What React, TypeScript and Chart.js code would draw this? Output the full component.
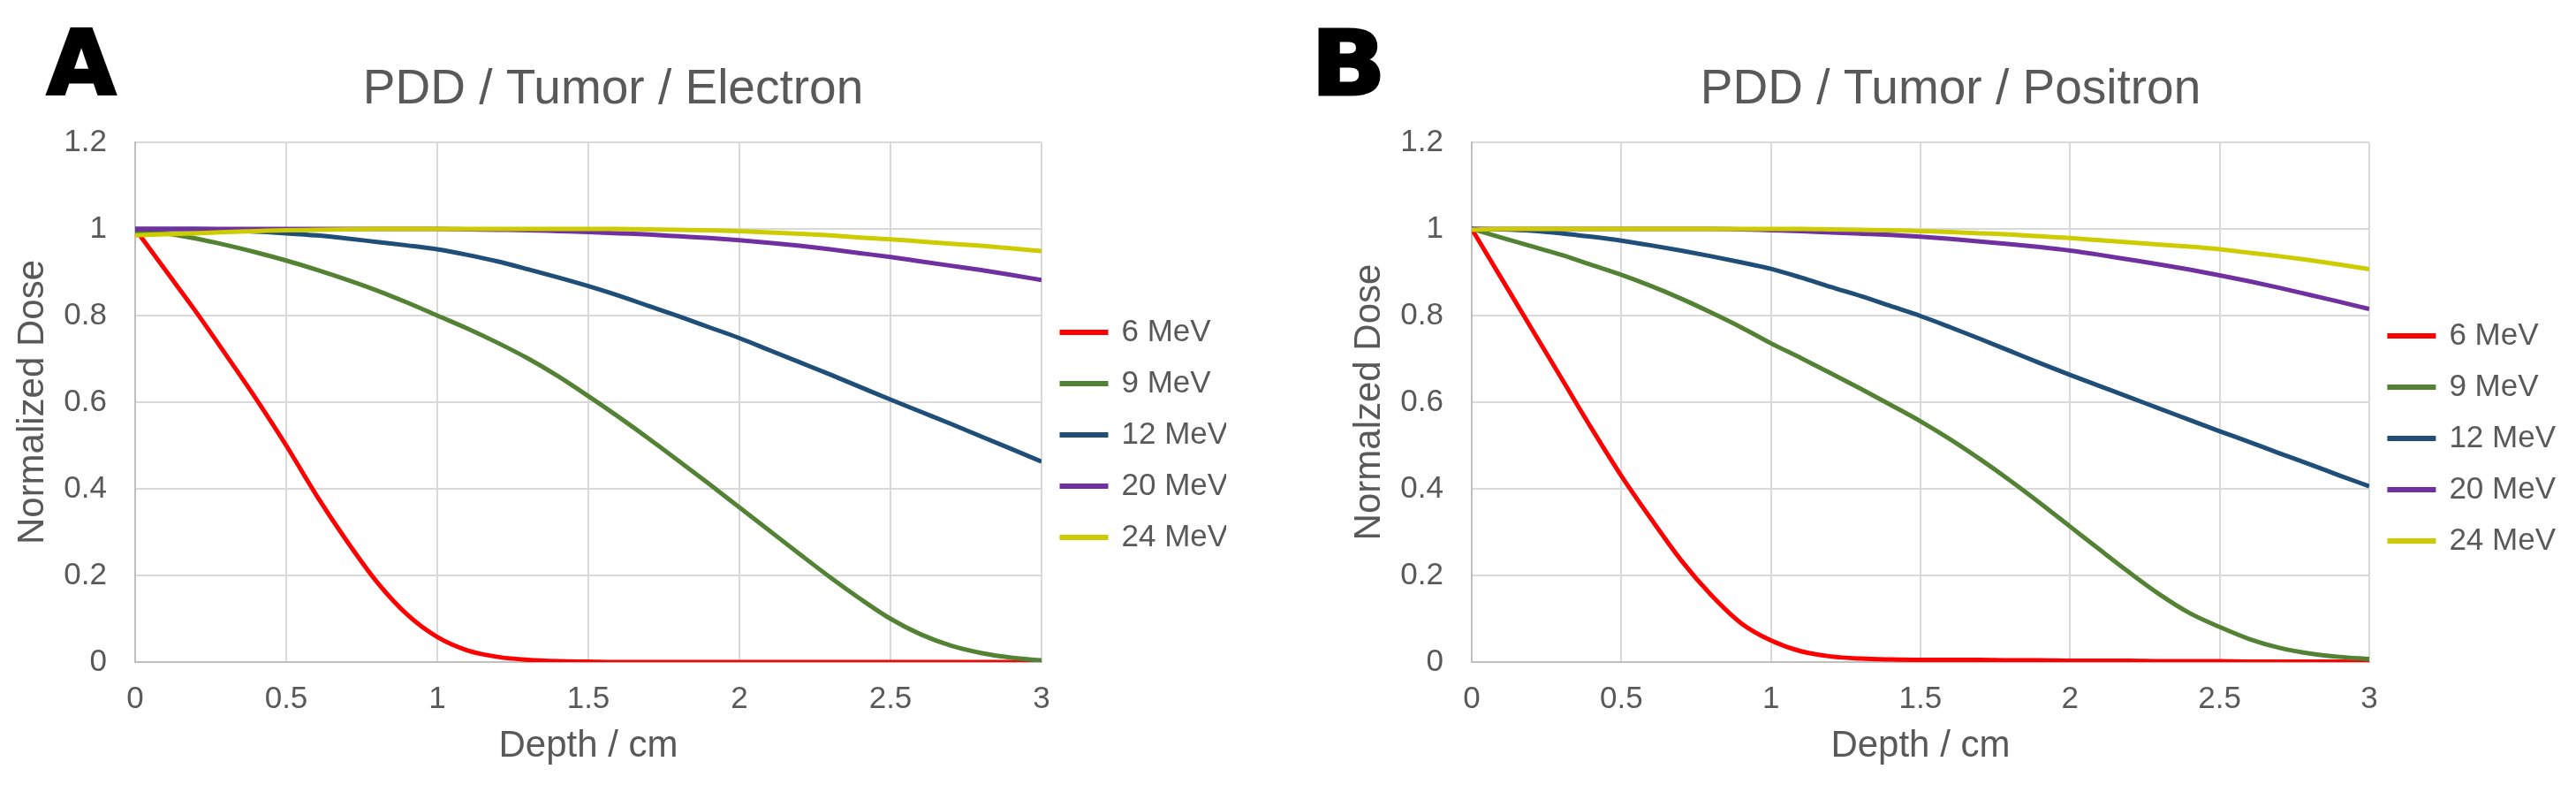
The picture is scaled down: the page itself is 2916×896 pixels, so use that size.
import { useEffect, useRef } from "react";
import Chart from "chart.js/auto";

// depth in cm, one sample every 0.1 cm
const depth = [0, 0.1, 0.2, 0.3, 0.4, 0.5, 0.6, 0.7, 0.8, 0.9, 1.0, 1.1, 1.2, 1.3, 1.4, 1.5, 1.6, 1.7, 1.8, 1.9, 2.0, 2.1, 2.2, 2.3, 2.4, 2.5, 2.6, 2.7, 2.8, 2.9, 3.0];

const energies = ["6 MeV", "9 MeV", "12 MeV", "20 MeV", "24 MeV"];
const colors = ["#FF0000", "#548235", "#1F4E79", "#7030A0", "#CCCC00"];

// A: electron beams
const electron6 = [1.0, 0.905, 0.81, 0.71, 0.608, 0.5, 0.385, 0.28, 0.185, 0.11, 0.058, 0.027, 0.012, 0.005, 0.002, 0.001, 0, 0, 0, 0, 0, 0, 0, 0, 0, 0, 0, 0, 0, 0, 0];
const electron9 = [0.995, 0.99, 0.978, 0.963, 0.946, 0.927, 0.906, 0.883, 0.858, 0.83, 0.8, 0.77, 0.737, 0.701, 0.66, 0.614, 0.566, 0.516, 0.464, 0.411, 0.357, 0.303, 0.249, 0.196, 0.146, 0.1, 0.064, 0.038, 0.021, 0.01, 0.004];
const electron12 = [1.0, 1.0, 1.0, 0.998, 0.994, 0.99, 0.985, 0.978, 0.97, 0.962, 0.953, 0.94, 0.925, 0.907, 0.888, 0.868, 0.846, 0.822, 0.798, 0.773, 0.748, 0.72, 0.692, 0.664, 0.635, 0.606, 0.578, 0.55, 0.521, 0.492, 0.463];
const electron20 = [1.0, 1.0, 1.0, 1.0, 1.0, 1.0, 1.0, 1.0, 1.0, 1.0, 1.0, 0.999, 0.998, 0.997, 0.995, 0.993, 0.99, 0.987, 0.983, 0.979, 0.974, 0.968, 0.961, 0.953, 0.944, 0.935, 0.925, 0.915, 0.905, 0.894, 0.882];
const electron24 = [0.985, 0.988, 0.99, 0.993, 0.995, 0.997, 0.998, 0.999, 1.0, 1.0, 1.0, 1.0, 1.0, 1.0, 1.0, 1.0, 1.0, 0.999, 0.998, 0.997, 0.995, 0.992, 0.989, 0.985, 0.98, 0.976, 0.971, 0.966, 0.961, 0.955, 0.949];

// B: positron beams
const positron6 = [1.0, 0.885, 0.77, 0.655, 0.54, 0.43, 0.33, 0.235, 0.155, 0.09, 0.05, 0.025, 0.013, 0.008, 0.006, 0.005, 0.005, 0.005, 0.004, 0.004, 0.003, 0.003, 0.003, 0.002, 0.002, 0.002, 0.001, 0.001, 0.001, 0.001, 0];
const positron9 = [1.0, 0.98, 0.96, 0.94, 0.917, 0.894, 0.868, 0.839, 0.807, 0.773, 0.736, 0.702, 0.667, 0.631, 0.594, 0.556, 0.514, 0.468, 0.419, 0.367, 0.313, 0.259, 0.206, 0.156, 0.113, 0.081, 0.053, 0.033, 0.02, 0.012, 0.007];
const positron12 = [1.0, 0.999, 0.996, 0.99, 0.982, 0.973, 0.962, 0.95, 0.937, 0.923, 0.908, 0.888, 0.866, 0.845, 0.822, 0.799, 0.773, 0.746, 0.718, 0.69, 0.663, 0.637, 0.611, 0.585, 0.559, 0.533, 0.508, 0.482, 0.457, 0.431, 0.406];
const positron20 = [1.0, 1.0, 1.0, 1.0, 1.0, 1.0, 1.0, 1.0, 1.0, 0.999, 0.997, 0.995, 0.992, 0.989, 0.986, 0.982, 0.977, 0.971, 0.965, 0.958, 0.95, 0.94, 0.929, 0.918, 0.906, 0.893, 0.879, 0.864, 0.848, 0.832, 0.815];
const positron24 = [0.998, 1.0, 1.0, 1.0, 1.0, 1.0, 1.0, 1.0, 1.0, 1.0, 1.0, 1.0, 0.999, 0.998, 0.997, 0.995, 0.993, 0.99, 0.987, 0.983, 0.979, 0.974, 0.969, 0.964, 0.959, 0.953, 0.945, 0.937, 0.928, 0.918, 0.907];

const FONT = "'Liberation Sans', Arial, sans-serif";
const GREY = "#595959";

Chart.defaults.font.family = FONT;

const fmt = (v: any) => `${Math.round(Number(v) * 10) / 10}`;

type Props = {
  title: string;
  yTitle: string;
  series: number[][];
  left: number;
  width: number;
  padRight: number;
  legendWidth: number;
  legendShift: number;
};

function DoseChart({ title, yTitle, series, left, width, padRight, legendWidth, legendShift }: Props) {
  const ref = useRef<HTMLCanvasElement | null>(null);

  useEffect(() => {
    if (!ref.current) return;
    const chart = new Chart(ref.current, {
      type: "line",
      data: {
        datasets: series.map((vals, i) => ({
          label: energies[i],
          data: depth.map((d, j) => ({ x: d, y: vals[j] })),
          borderColor: colors[i],
          backgroundColor: colors[i],
          borderWidth: 5,
          pointRadius: 0,
          cubicInterpolationMode: "monotone" as const,
          order: series.length - i, // last series on top, like Excel
        })),
      },
      options: {
        responsive: false,
        animation: false,
        layout: { padding: { left: 0, top: 0, bottom: 0, right: padRight } },
        plugins: {
          title: {
            display: true,
            text: title,
            color: GREY,
            font: { size: 55, weight: "normal" },
            padding: { top: 69, bottom: 26 },
          },
          legend: {
            position: "right",
            align: "center",
            maxWidth: legendWidth,
            title: { display: true, text: " ", font: { size: 10 }, padding: { top: legendShift, bottom: legendShift } },
            labels: {
              color: GREY,
              font: { size: 35 },
              boxWidth: 50,
              boxHeight: 1,
              padding: 23,
              sort: (a: any, b: any) => a.datasetIndex - b.datasetIndex,
            },
          },
          tooltip: { enabled: false },
        },
        scales: {
          x: {
            type: "linear",
            min: 0,
            max: 3,
            ticks: { stepSize: 0.5, color: GREY, font: { size: 35 }, padding: 21, callback: fmt },
            grid: { color: "#D9D9D9", lineWidth: 2, drawTicks: false },
            border: { color: "#BFBFBF", width: 2 },
            title: { display: true, text: "Depth / cm", color: GREY, font: { size: 42 }, padding: { top: 0, bottom: 26 } },
            afterFit: (s: any) => { s.height = 147; },
          },
          y: {
            min: 0,
            max: 1.2,
            ticks: { stepSize: 0.2, color: GREY, font: { size: 35 }, padding: 32, callback: fmt },
            grid: { color: "#D9D9D9", lineWidth: 2, drawTicks: false },
            border: { color: "#BFBFBF", width: 2 },
            title: { display: true, text: yTitle, color: GREY, font: { size: 42 }, padding: { top: 12, bottom: 0 } },
            afterFit: (s: any) => { s.width = 153; },
          },
        },
      },
    });
    return () => chart.destroy();
  }, [title, yTitle, series, width, padRight, legendWidth, legendShift]);

  return <canvas ref={ref} width={width} height={896} style={{ position: "absolute", left, top: 0 }} />;
}

const letterStyle = {
  position: "absolute" as const,
  top: 22,
  fontFamily: "'DejaVu Sans', sans-serif",
  fontWeight: 900,
  fontSize: 101,
  lineHeight: 1,
  color: "#000",
  WebkitTextStroke: "3px #000",
  transformOrigin: "left top",
};

export default function App() {
  return (
    <div style={{ position: "absolute", left: 0, top: 0, width: 2916, height: 896, background: "#fff", overflow: "hidden" }}>
      <DoseChart
        title="PDD / Tumor / Electron"
        yTitle="Normalized Dose"
        series={[electron6, electron9, electron12, electron20, electron24]}
        left={0}
        width={1458}
        padRight={70}
        legendWidth={209}
        legendShift={38}
      />
      <DoseChart
        title="PDD / Tumor / Positron"
        yTitle="Normalzed Dose"
        series={[positron6, positron9, positron12, positron20, positron24]}
        left={1513}
        width={1403}
        padRight={13}
        legendWidth={226}
        legendShift={42}
      />
      <div style={{ ...letterStyle, left: 53 }}>A</div>
      <div style={{ ...letterStyle, left: 1484, transform: "scaleX(1.1)" }}>B</div>
    </div>
  );
}
